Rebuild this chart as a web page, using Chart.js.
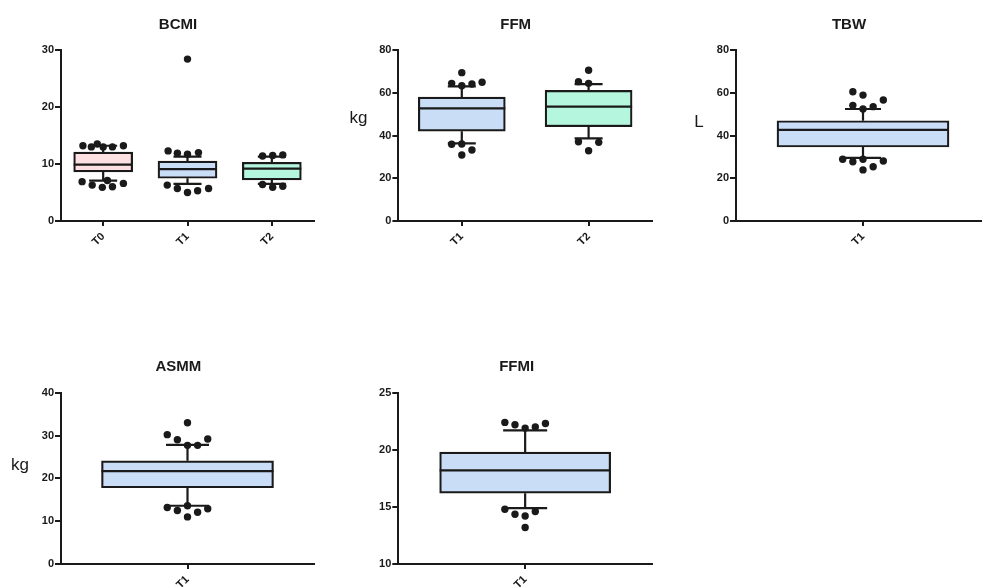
<!DOCTYPE html>
<html>
<head>
<meta charset="utf-8">
<script src="https://cdn.jsdelivr.net/npm/chart.js@4.4.1/dist/chart.umd.min.js"></script>
<style>
  html, body { margin: 0; padding: 0; background: #fff; overflow: hidden; width: 982px; height: 587px; }
  canvas { position: absolute; }
</style>
</head>
<body>
<canvas id="bcmi"></canvas>
<canvas id="ffm"></canvas>
<canvas id="tbw"></canvas>
<canvas id="asmm"></canvas>
<canvas id="ffmi"></canvas>
<script>
// box summaries: [lower whisker, q1, median, q3, upper whisker]
// dots: [jitter in category units, value]
const bcmiLabels = ['T0', 'T1', 'T2'];
const bcmiBoxes = [[7.1, 8.6, 9.9, 12.1, 13.2], [6.5, 7.5, 9.1, 10.5, 11.3], [6.5, 7.2, 9.2, 10.3, 11.3]];
const bcmiDots = [
  [[-0.24, 13.2], [-0.14, 13.0], [-0.07, 13.5], [0, 13.0], [0.11, 13.0], [0.24, 13.2],
   [-0.25, 6.9], [-0.13, 6.3], [-0.01, 5.9], [0.05, 7.1], [0.11, 6.0], [0.24, 6.6]],
  [[0, 28.4], [-0.23, 12.3], [-0.12, 11.9], [0, 11.7], [0.13, 12.0],
   [-0.24, 6.3], [-0.12, 5.7], [0, 5.0], [0.12, 5.3], [0.25, 5.7]],
  [[-0.11, 11.4], [0.01, 11.5], [0.13, 11.6], [-0.11, 6.4], [0.01, 5.9], [0.13, 6.1]]
];
const bcmiTicks = [0, 10, 20, 30];

const ffmLabels = ['T1', 'T2'];
const ffmBoxes = [[36.3, 42.0, 52.7, 58.0, 63.0], [38.7, 44.1, 53.5, 61.1, 64.0]];
const ffmDots = [
  [[-0.08, 64.4], [0, 63.3], [0.08, 64.1], [0.16, 64.9], [0, 69.4],
   [-0.08, 35.9], [0, 36.0], [0.08, 33.2], [0, 30.9]],
  [[-0.08, 65.2], [0, 64.4], [0, 70.5], [-0.08, 37.1], [0.08, 36.8], [0, 32.9]]
];
const ffmTicks = [0, 20, 40, 60, 80];

const tbwLabels = ['T1'];
const tbwBoxes = [[29.5, 34.6, 42.6, 46.9, 52.4]];
const tbwDots = [
  [[-0.04, 60.5], [0, 58.9], [0.08, 56.6], [-0.04, 54.1], [0, 52.4], [0.04, 53.5],
   [-0.08, 28.9], [-0.04, 27.7], [0, 28.9], [0.08, 28.1], [0.04, 25.4], [0, 23.9]]
];
const tbwTicks = [0, 20, 40, 60, 80];

const asmmLabels = ['T1'];
const asmmBoxes = [[13.6, 17.8, 21.7, 24.1, 27.8]];
const asmmDots = [
  [[0, 33.0], [-0.08, 30.2], [-0.04, 29.0], [0, 27.7], [0.04, 27.7], [0.08, 29.2],
   [-0.08, 13.2], [-0.04, 12.5], [0, 13.6], [0.04, 12.1], [0.08, 12.9], [0, 11.0]]
];
const asmmTicks = [0, 10, 20, 30, 40];

const ffmiLabels = ['T1'];
const ffmiBoxes = [[14.9, 16.2, 18.2, 19.8, 21.7]];
const ffmiDots = [
  [[-0.08, 22.4], [-0.04, 22.2], [0, 21.9], [0.04, 22.0], [0.08, 22.3],
   [-0.08, 14.8], [-0.04, 14.35], [0, 14.2], [0.04, 14.6], [0, 13.2]]
];
const ffmiTicks = [10, 15, 20, 25];

const ink = '#1a1a1a';
const pink = '#fde0e2';
const blue = '#c9ddf7';
const mint = '#b4f6de';
const family = "'Liberation Sans', Arial, sans-serif";

const panels = [
  { id: 'bcmi', title: 'BCMI', labels: bcmiLabels, boxes: bcmiBoxes, dots: bcmiDots, ticks: bcmiTicks,
    fills: [pink, blue, mint], unit: '', left: 0, top: 0, width: 318, height: 300,
    padLeft: 38, axisW: 23, axisH: 79, titleTop: 16, titleBottom: 16, barW: 59, capW: 28 },
  { id: 'ffm', title: 'FFM', labels: ffmLabels, boxes: ffmBoxes, dots: ffmDots, ticks: ffmTicks,
    fills: [blue, mint], unit: 'kg', unitDx: -40, unitDy: 68, left: 330, top: 0, width: 326, height: 300,
    padLeft: 45.4, axisW: 23, axisH: 79, titleTop: 16, titleBottom: 16, barW: 87, capW: 28 },
  { id: 'tbw', title: 'TBW', labels: tbwLabels, boxes: tbwBoxes, dots: tbwDots, ticks: tbwTicks,
    fills: [blue], unit: 'L', unitDx: -37, unitDy: 72, left: 660, top: 0, width: 334, height: 300,
    padLeft: 44, axisW: 32, axisH: 79, titleTop: 16, titleBottom: 16, barW: 172, capW: 36 },
  { id: 'asmm', title: 'ASMM', labels: asmmLabels, boxes: asmmBoxes, dots: asmmDots, ticks: asmmTicks,
    fills: [blue], unit: 'kg', unitDx: -41, unitDy: 73, left: 0, top: 340, width: 318, height: 270,
    padLeft: 38.9, axisW: 22.1, axisH: 46, titleTop: 18.3, titleBottom: 16.4, barW: 172, capW: 43 },
  { id: 'ffmi', title: 'FFMI', labels: ffmiLabels, boxes: ffmiBoxes, dots: ffmiDots, ticks: ffmiTicks,
    fills: [blue], unit: '', left: 330, top: 340, width: 326, height: 270,
    padLeft: 47.4, axisW: 20.9, axisH: 46, titleTop: 18.3, titleBottom: 16.4, barW: 171, capW: 44 }
];

function boxPlugin(p) {
  return {
    id: 'boxes',
    beforeDatasetsDraw(chart) {
      const { ctx, scales: { x, y } } = chart;
      ctx.save();
      ctx.strokeStyle = ink;
      ctx.lineWidth = 2.2;
      ctx.beginPath();
      p.boxes.forEach((b, i) => {
        const cx = x.getPixelForValue(i);
        const lo = y.getPixelForValue(b[0]), hi = y.getPixelForValue(b[4]);
        ctx.moveTo(cx, y.getPixelForValue(b[3])); ctx.lineTo(cx, hi);
        ctx.moveTo(cx, y.getPixelForValue(b[1])); ctx.lineTo(cx, lo);
        ctx.moveTo(cx - p.capW / 2, hi); ctx.lineTo(cx + p.capW / 2, hi);
        ctx.moveTo(cx - p.capW / 2, lo); ctx.lineTo(cx + p.capW / 2, lo);
      });
      ctx.stroke();
      ctx.restore();
    },
    afterDatasetDraw(chart, args) {
      if (args.meta.type !== 'bar') return;
      const { ctx, scales: { y } } = chart;
      ctx.save();
      ctx.strokeStyle = ink;
      ctx.lineWidth = 2.2;
      ctx.beginPath();
      args.meta.data.forEach((bar, i) => {
        const my = y.getPixelForValue(p.boxes[i][2]);
        ctx.moveTo(bar.x - bar.width / 2, my);
        ctx.lineTo(bar.x + bar.width / 2, my);
      });
      ctx.stroke();
      ctx.restore();
    },
    afterDraw(chart) {
      if (!p.unit) return;
      const { ctx, chartArea } = chart;
      ctx.save();
      ctx.fillStyle = ink;
      ctx.font = '17px ' + family;
      ctx.textAlign = 'center';
      ctx.textBaseline = 'middle';
      ctx.fillText(p.unit, chartArea.left + p.unitDx, chartArea.top + p.unitDy);
      ctx.restore();
    }
  };
}

function makeChart(p) {
  const canvas = document.getElementById(p.id);
  canvas.width = p.width;
  canvas.height = p.height;
  canvas.style.left = p.left + 'px';
  canvas.style.top = p.top + 'px';
  const n = p.labels.length;
  const boxData = p.boxes.map((b, i) => ({ x: i, y: [b[1], b[3]] }));
  const dotData = [];
  p.dots.forEach((g, i) => g.forEach(d => dotData.push({ x: i + d[0], y: d[1] })));
  const tickFont = { family, size: 11, weight: 'bold' };

  new Chart(canvas, {
    type: 'bar',
    data: {
      datasets: [
        { type: 'scatter', data: dotData, order: 0, pointRadius: 3.7,
          pointBackgroundColor: ink, pointBorderWidth: 0 },
        { type: 'bar', data: boxData, order: 1, backgroundColor: p.fills, borderColor: ink,
          borderWidth: 2.2, borderSkipped: false, barThickness: p.barW }
      ]
    },
    options: {
      responsive: false,
      animation: false,
      events: [],
      layout: { padding: { left: p.padLeft, right: 0, top: 0, bottom: 0 } },
      plugins: {
        legend: { display: false },
        tooltip: { enabled: false },
        title: { display: true, text: p.title, color: ink,
          font: { family, size: 15, weight: 'bold' },
          padding: { top: p.titleTop, bottom: p.titleBottom } }
      },
      scales: {
        x: {
          type: 'linear', min: -0.5, max: n - 0.5, offset: false,
          afterBuildTicks: ax => { ax.ticks = p.labels.map((_, i) => ({ value: i })); },
          afterFit: ax => { ax.height = p.axisH; ax.paddingLeft = 0; ax.paddingRight = 0; },
          ticks: { callback: v => p.labels[v], minRotation: 45, maxRotation: 45,
            autoSkip: false, font: tickFont, color: ink, padding: 4 },
          grid: { offset: false, drawOnChartArea: false, drawTicks: true, tickLength: 5,
            color: ink, lineWidth: 2 },
          border: { display: true, color: ink, width: 2 }
        },
        y: {
          type: 'linear', min: p.ticks[0], max: p.ticks[p.ticks.length - 1], beginAtZero: false,
          afterBuildTicks: ax => { ax.ticks = p.ticks.map(v => ({ value: v })); },
          afterFit: ax => { ax.width = p.axisW; ax.paddingTop = 0; ax.paddingBottom = 0; },
          ticks: { font: tickFont, color: ink, padding: 1 },
          grid: { drawOnChartArea: false, drawTicks: true, tickLength: 6, color: ink, lineWidth: 2 },
          border: { display: true, color: ink, width: 2 }
        }
      }
    },
    plugins: [boxPlugin(p)]
  });
}

panels.forEach(makeChart);
</script>
</body>
</html>
